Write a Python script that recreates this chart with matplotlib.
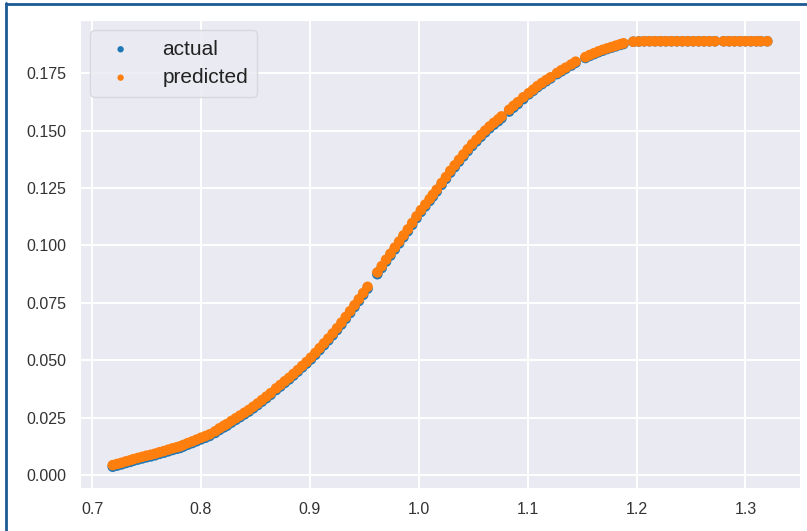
import matplotlib
matplotlib.use('Agg')
import matplotlib.pyplot as plt
from matplotlib.lines import Line2D
import seaborn as sns

# data
x = [0.719, 0.723, 0.727, 0.731, 0.735, 0.738,
     0.742, 0.746, 0.750, 0.754, 0.758, 0.762, 0.766, 0.770, 0.774, 0.778, 0.781,
     0.784, 0.788, 0.792, 0.796, 0.800, 0.804, 0.808,
     0.813, 0.817, 0.821, 0.824,
     0.828, 0.832, 0.836, 0.840, 0.844,
     0.848, 0.852, 0.856, 0.860, 0.864, 0.869,
     0.873, 0.877, 0.881, 0.885, 0.889, 0.893, 0.897, 0.901, 0.905, 0.909, 0.913,
     0.917, 0.921, 0.925, 0.929, 0.933, 0.937, 0.941, 0.945, 0.949, 0.953,
     0.962, 0.966, 0.970, 0.974, 0.978, 0.982, 0.986, 0.990, 0.994, 0.998,
     1.002, 1.006, 1.010, 1.013,
     1.0165,
     1.021, 1.025, 1.029, 1.033, 1.037, 1.041, 1.045, 1.049, 1.053, 1.057,
     1.061, 1.065, 1.069, 1.073, 1.076,
     1.083, 1.087, 1.091, 1.096,
     1.101, 1.105, 1.109, 1.113, 1.117, 1.121,
     1.127, 1.131, 1.135, 1.140, 1.144,
     1.153, 1.157, 1.161, 1.165, 1.169, 1.173, 1.177, 1.181, 1.185, 1.188,
     1.197, 1.202, 1.207, 1.212, 1.217, 1.222, 1.227, 1.232, 1.237, 1.242,
     1.247, 1.252, 1.257, 1.262, 1.267, 1.272,
     1.280, 1.285, 1.290, 1.295, 1.300, 1.305, 1.310, 1.314,
     1.320]

actual = [0.0037, 0.0042, 0.0047, 0.0053, 0.0058, 0.0063,
          0.0068, 0.0073, 0.0078, 0.0082, 0.0087, 0.0093, 0.0098, 0.0104, 0.0110, 0.0115, 0.0119,
          0.0125, 0.0133, 0.0140, 0.0148, 0.0156, 0.0163, 0.0171,
          0.0184, 0.0197, 0.0208, 0.0216,
          0.0229, 0.0241, 0.0253, 0.0265, 0.0277,
          0.0291, 0.0305, 0.0320, 0.0335, 0.0350, 0.0371,
          0.0386, 0.0402, 0.0417, 0.0434, 0.0451, 0.0469, 0.0486, 0.0504, 0.0524, 0.0545, 0.0566,
          0.0587, 0.0609, 0.0632, 0.0656, 0.0681, 0.0706, 0.0732, 0.0758, 0.0785, 0.0812,
          0.0875, 0.0902, 0.0930, 0.0956, 0.0983, 0.1009, 0.1036, 0.1062, 0.1090, 0.1119,
          0.1146, 0.1170, 0.1194, 0.1213,
          0.1235,
          0.1264, 0.1290, 0.1317, 0.1341, 0.1365, 0.1388, 0.1411, 0.1433, 0.1453, 0.1473,
          0.1492, 0.1510, 0.1526, 0.1541, 0.1554,
          0.1583, 0.1600, 0.1616, 0.1637,
          0.1658, 0.1673, 0.1689, 0.1702, 0.1715, 0.1727,
          0.1746, 0.1758, 0.1769, 0.1783, 0.1795,
          0.1816, 0.1825, 0.1833, 0.1841, 0.1848, 0.1855, 0.1861, 0.1867, 0.1873, 0.1877,
          0.1887, 0.1888, 0.1889, 0.1889, 0.1889, 0.1889, 0.1889, 0.1889, 0.1889, 0.1889,
          0.1889, 0.1889, 0.1889, 0.1889, 0.1889, 0.1889,
          0.1889, 0.1889, 0.1889, 0.1889, 0.1889, 0.1889, 0.1889, 0.1889,
          0.1889]

predicted = [0.0044, 0.0049, 0.0054, 0.0060, 0.0065, 0.0070,
             0.0075, 0.0080, 0.0085, 0.0089, 0.0094, 0.0100, 0.0105, 0.0111, 0.0117, 0.0122, 0.0126,
             0.0132, 0.0140, 0.0147, 0.0155, 0.0163, 0.0170, 0.0178,
             0.0191, 0.0204, 0.0215, 0.0223,
             0.0236, 0.0248, 0.0260, 0.0272, 0.0284,
             0.0298, 0.0312, 0.0327, 0.0342, 0.0357, 0.0378,
             0.0393, 0.0409, 0.0424, 0.0441, 0.0458, 0.0476, 0.0493, 0.0512, 0.0532, 0.0553, 0.0574,
             0.0595, 0.0617, 0.0640, 0.0664, 0.0689, 0.0714, 0.0740, 0.0766, 0.0793, 0.0820,
             0.0883, 0.0910, 0.0938, 0.0964, 0.0991, 0.1017, 0.1044, 0.1070, 0.1098, 0.1127,
             0.1154, 0.1178, 0.1202, 0.1221,
             0.1243,
             0.1272, 0.1298, 0.1325, 0.1349, 0.1373, 0.1396, 0.1419, 0.1441, 0.1461, 0.1481,
             0.1500, 0.1518, 0.1534, 0.1549, 0.1562,
             0.1591, 0.1608, 0.1624, 0.1645,
             0.1663, 0.1678, 0.1694, 0.1707, 0.1720, 0.1732,
             0.1751, 0.1763, 0.1774, 0.1788, 0.1800,
             0.1820, 0.1829, 0.1837, 0.1845, 0.1852, 0.1858, 0.1864, 0.1870, 0.1876, 0.1880,
             0.1887, 0.1888, 0.1889, 0.1889, 0.1889, 0.1889, 0.1889, 0.1889, 0.1889, 0.1889,
             0.1889, 0.1889, 0.1889, 0.1889, 0.1889, 0.1889,
             0.1889, 0.1889, 0.1889, 0.1889, 0.1889, 0.1889, 0.1889, 0.1889,
             0.1889]

sns.set_style('darkgrid')
plt.rcParams['font.family'] = ['Liberation Sans', 'DejaVu Sans']

fig = plt.figure(figsize=(8.07, 5.31), dpi=100)
ax = fig.add_axes([0.0991, 0.081, 0.8922, 0.8814])

ax.scatter(x, actual, s=58, color='#1f77b4', edgecolors='none', label='actual', zorder=2)
ax.scatter(x, predicted, s=58, color='#ff7f0e', edgecolors='none', label='predicted', zorder=3)

ax.grid(True, color='white', linewidth=1.4)
ax.set_facecolor('#EAEAF2')
ax.tick_params(axis='both', labelsize=11.5, colors='#333333', length=0, pad=10)

leg = ax.legend(loc='upper left', fontsize=15, markerscale=0.6,
                handletextpad=1.0, labelspacing=0.45, borderaxespad=0.5,
                borderpad=0.45, frameon=True, facecolor='#EAEAF2', edgecolor='#d4d4dc')
leg.get_frame().set_alpha(0.85)
for t in leg.get_texts():
    t.set_color('#222222')

# screenshot frame
fig.add_artist(Line2D([0.0075, 0.0075], [0, 0.995], transform=fig.transFigure,
                      color='#1c5a94', linewidth=2))
fig.add_artist(Line2D([0.0075, 1.0], [0.993, 0.993], transform=fig.transFigure,
                      color='#1c5a94', linewidth=2))

fig.savefig('out.png', dpi=100)
